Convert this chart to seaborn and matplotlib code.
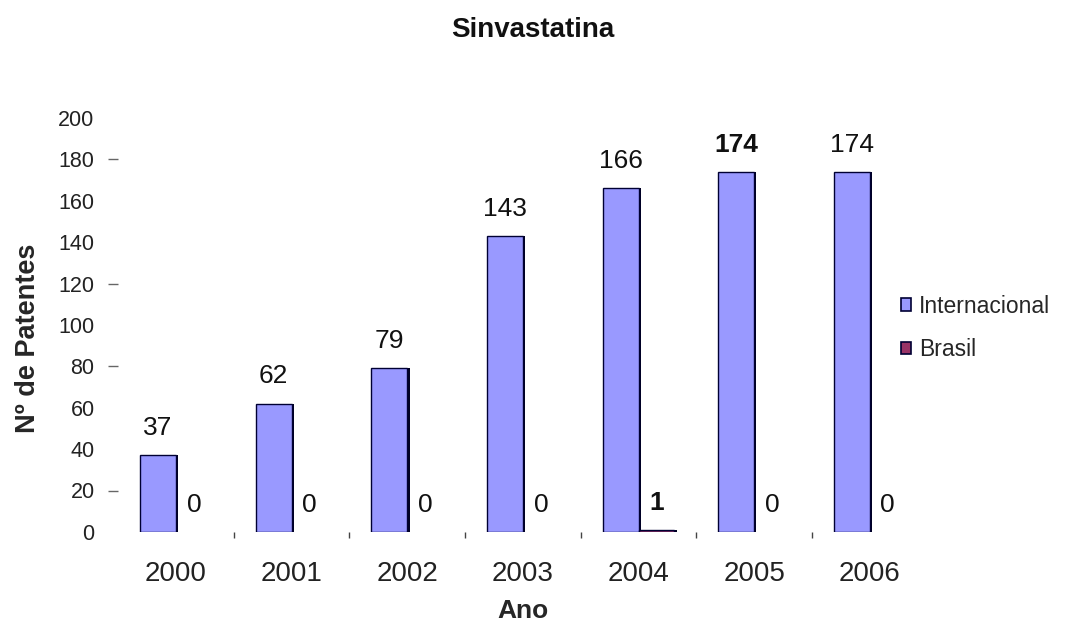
import matplotlib
matplotlib.use("Agg")
import matplotlib.pyplot as plt
import matplotlib.patheffects as pe
import seaborn as sns
import pandas as pd
from matplotlib.patches import Patch

anos = ["2000", "2001", "2002", "2003", "2004", "2005", "2006"]
internacional = [37, 62, 79, 143, 166, 174, 174]
brasil = [0, 0, 0, 0, 1, 0, 0]
series = ["Internacional", "Brasil"]
yticks = [0, 20, 40, 60, 80, 100, 120, 140, 160, 180, 200]

df = pd.DataFrame({
    "Ano": anos * 2,
    "Patentes": internacional + brasil,
    "Serie": [series[0]] * len(anos) + [series[1]] * len(anos),
})

sns.set_theme(style="white")
plt.rcParams["font.family"] = ["Liberation Sans", "DejaVu Sans"]

fig = plt.figure(figsize=(10.65, 6.25), dpi=100)
ax = fig.add_axes([0.111, 0.149, 0.76, 0.662])

colors = ["#9999FF", "#993366"]
sns.barplot(data=df, x="Ano", y="Patentes", hue="Serie", palette=colors,
            saturation=1, width=0.62, edgecolor="#000033", linewidth=1.0,
            ax=ax, legend=False)

shadow = [pe.SimplePatchShadow(offset=(1.6, 0), shadow_rgbFace="#000022", alpha=1.0),
          pe.Normal()]
for cont in ax.containers:
    for bar in cont:
        if bar.get_height() == 0:
            bar.set_linewidth(0)
        else:
            bar.set_path_effects(shadow)

ax.set_ylim(0, 200)
ax.set_xlim(-0.5, 6.5)
ax.set_yticks(yticks)
ax.set_yticklabels([str(v) for v in yticks], fontsize=15.5, color="#222222")
ax.tick_params(axis="y", which="major", length=0, pad=17)
ax.yaxis.remove_overlapping_locs = False
ax.set_yticks([20, 80, 120, 180], minor=True)
ax.tick_params(axis="y", which="minor", length=7, width=1, color="#666666",
               direction="out", left=True)
ax.tick_params(axis="x", which="major", length=0, pad=21, labelsize=20,
               labelcolor="#222222")
ax.set_xticks([i + 0.5 for i in range(len(anos) - 1)], minor=True)
ax.tick_params(axis="x", which="minor", length=4, width=1, color="#444444",
               direction="out", bottom=True)
for s in ax.spines.values():
    s.set_visible(False)

ax.set_xlabel("Ano", fontsize=19, fontweight="bold", va="center")
ax.xaxis.set_label_coords(0.5, -0.191)
ax.set_ylabel("Nº de Patentes", fontsize=19.5, fontweight="bold", va="center")
ax.yaxis.set_label_coords(-0.112, 0.469)
fig.text(0.5, 1 - 30 / 625, "Sinvastatina", fontsize=20, fontweight="bold",
         ha="center", va="center", color="#111111")

bold_int = {5}
for ci, (cont, vals) in enumerate(zip(ax.containers, [internacional, brasil])):
    for i, (bar, v) in enumerate(zip(cont, vals)):
        x = bar.get_x() + bar.get_width() / 2
        h = bar.get_height()
        if ci == 0:
            w = "bold" if i in bold_int else "normal"
        else:
            w = "bold" if v > 0 else "normal"
        ax.annotate(str(v), (x, h), xytext=(0, 11), textcoords="offset points",
                    ha="center", va="bottom", fontsize=19, fontweight=w,
                    color="#111111")

handles = [Patch(facecolor=c, edgecolor="#000033", linewidth=1.2) for c in colors]
leg = fig.legend(handles, series, loc="center left", bbox_to_anchor=(0.846, 0.475),
                 frameon=False, fontsize=16.5, handlelength=0.45, handleheight=0.45,
                 handletextpad=0.35, labelspacing=0.9, borderpad=0,
                 borderaxespad=0)

fig.savefig("out.png", dpi=100)
